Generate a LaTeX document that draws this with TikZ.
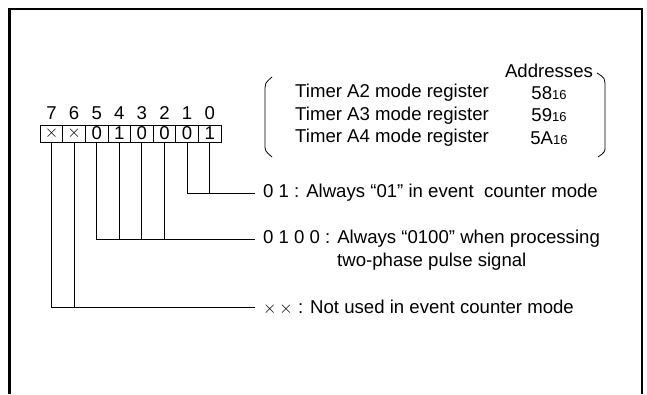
\documentclass[tikz,border=0pt]{standalone}
\usepackage{fontspec}
\setmainfont{Liberation Sans}
\newcommand{\cellx}{{\fontsize{16}{16}\selectfont$\times$}}
\begin{document}
\begin{tikzpicture}[x=1pt,y=-1pt,
  font=\fontsize{18.6}{21}\selectfont,
  cell/.style={draw,line width=0.9pt,minimum width=22.6pt,minimum height=17pt,inner sep=0pt},
  bitnum/.style={inner sep=0pt},
  lbl/.style={anchor=west,inner xsep=8pt,inner ysep=0pt},
  txt/.style={anchor=west,inner sep=0pt},
  conn/.style={line width=0.9pt}]
\useasboundingbox (0,0) rectangle (647,394);
% frame
\draw[line width=2.2pt] (9.5,394) -- (9.5,9) -- (642,9) -- (642,394);
% register cells
\foreach \i/\t in {7/\cellx,6/\cellx,5/0,4/1,3/0,2/0,1/0,0/1}{
  \node[cell] (b\i) at ({51.5+22.6*(7-\i)},133.5) {\t};
  \node[bitnum] (n\i) at ({51.5+22.6*(7-\i)},113) {\i};
}
% labels
\node[lbl] (l01) at (255,193) {0 1 : Always “01” in event\ \ counter mode};
\node[lbl] (l0100) at (255,239) {0 1 0 0 : Always “0100” when processing};
\node[txt] (l0100b) at (337,262) {two-phase pulse signal};
\node[lbl] (lxx) at (255,307) {$\times\,\times$ : Not used in event counter mode};
% connectors
\draw[conn] (b1.south) |- (l01.west);
\draw[conn] (b0.south) -- (b0.south |- l01.west);
\draw[conn] (b5.south) |- (l0100.west);
\foreach \i in {4,3,2}{\draw[conn] (b\i.south) -- (b\i.south |- l0100.west);}
\draw[conn] (b7.south) |- (lxx.west);
\draw[conn] (b6.south) -- (b6.south |- lxx.west);
% address table
\node (addr) at (549,71) {Addresses};
\node[txt] (t2) at (295,93) {Timer A2 mode register};
\node[txt] (t3) at (295,115.5) {Timer A3 mode register};
\node[txt] (t4) at (295,138) {Timer A4 mode register};
\node (a2) at (549,93) {58{\fontsize{13}{15}\selectfont 16}};
\node (a3) at (549,115.5) {59{\fontsize{13}{15}\selectfont 16}};
\node (a4) at (549,138) {5A{\fontsize{13}{15}\selectfont 16}};
% brackets
\draw[line width=0.8pt] (272,77) .. controls (265,83) .. (265,92) -- (265,144) .. controls (265,151) .. (272,157);
\draw[line width=0.8pt] (597,73) .. controls (605,78) .. (605,88) -- (605,146) .. controls (605,152) .. (598,157);
\end{tikzpicture}
\end{document}
